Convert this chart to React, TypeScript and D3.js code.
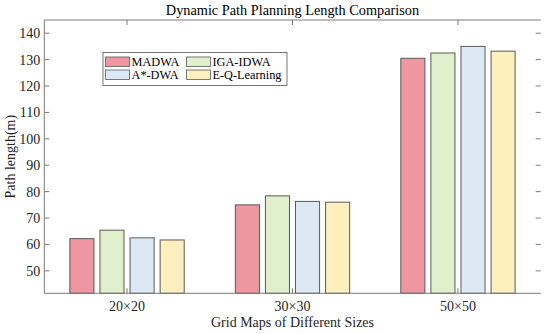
import React, { useEffect, useRef } from 'react';
import * as d3 from 'd3';

const groups = ['20×20', '30×30', '50×50'];
const seriesNames = ['MADWA', 'IGA-IDWA', 'A*-DWA', 'E-Q-Learning'];
const madwa = [62.2, 75.0, 130.5];
const igaIdwa = [65.4, 78.4, 132.5];
const aStarDwa = [62.5, 76.3, 135.0];
const eqLearning = [61.7, 76.0, 133.2];
const yTicks = [50, 60, 70, 80, 90, 100, 110, 120, 130, 140];

const colors = ['#EF97A0', '#E1F0CC', '#DCE9F4', '#FEEFBE'];

const App: React.FC = () => {
  const ref = useRef<HTMLDivElement | null>(null);

  useEffect(() => {
    if (!ref.current) return;
    ref.current.innerHTML = '';

    const width = 550;
    const height = 334;
    const left = 44.3;
    const right = 540.7;
    const top = 20;
    const bottom = 293.3;
    const font = "'Liberation Serif', 'Times New Roman', serif";
    const axisColor = '#7a7a7a';

    const series = [madwa, igaIdwa, aStarDwa, eqLearning];

    const x = d3.scaleLinear().domain([0.5, 3.5]).range([left, right]);
    const y = d3.scaleLinear().domain([41.5, 145]).range([bottom, top]);

    const svg = d3
      .select(ref.current)
      .append('svg')
      .attr('width', width)
      .attr('height', height)
      .style('position', 'absolute')
      .style('left', '0px')
      .style('top', '0px');

    const addText = (g: any, size: number, fill: string) =>
      g.append('text').attr('font-family', font).attr('font-size', size).attr('fill', fill);

    // bars (MATLAB grouped layout)
    const groupWidth = Math.min(0.8, 4 / (4 + 1.5));
    const step = groupWidth / 4;
    const barW = step * 0.8;
    series.forEach((vals, si) => {
      svg
        .append('g')
        .selectAll('rect')
        .data(vals)
        .enter()
        .append('rect')
        .attr('x', (_d, gi) => x(gi + 1 - groupWidth / 2 + step * si + (step - barW) / 2))
        .attr('width', x(barW) - x(0))
        .attr('y', (d) => y(d))
        .attr('height', (d) => bottom - y(d))
        .attr('fill', colors[si])
        .attr('stroke', '#5a5a5a')
        .attr('stroke-width', 1);
    });

    // axis lines
    svg.append('line').attr('x1', left).attr('x2', left).attr('y1', top).attr('y2', bottom).attr('stroke', axisColor);
    svg.append('line').attr('x1', left).attr('x2', right).attr('y1', bottom).attr('y2', bottom).attr('stroke', axisColor);
    svg.append('line').attr('x1', left).attr('x2', right).attr('y1', top).attr('y2', top).attr('stroke', axisColor);

    // y ticks
    const yt = svg.append('g');
    yTicks.forEach((t) => {
      yt.append('line').attr('x1', left).attr('x2', left + 5).attr('y1', y(t)).attr('y2', y(t)).attr('stroke', axisColor);
      yt.append('line').attr('x1', right - 5).attr('x2', right).attr('y1', y(t)).attr('y2', y(t)).attr('stroke', axisColor);
      addText(yt, 14, '#262626')
        .attr('x', left - 4)
        .attr('y', y(t))
        .attr('dy', '0.35em')
        .attr('text-anchor', 'end')
        .text(t);
    });

    // x ticks
    groups.forEach((g, i) => {
      const cx = x(i + 1);
      svg.append('line').attr('x1', cx).attr('x2', cx).attr('y1', bottom).attr('y2', bottom - 5).attr('stroke', axisColor);
      svg.append('line').attr('x1', cx).attr('x2', cx).attr('y1', top).attr('y2', top + 5).attr('stroke', axisColor);
      addText(svg, 14, '#262626')
        .attr('x', cx)
        .attr('y', bottom + 18)
        .attr('text-anchor', 'middle')
        .text(g);
    });

    // titles
    addText(svg, 14.3, '#000')
      .attr('x', (left + right) / 2)
      .attr('y', 15)
      .attr('text-anchor', 'middle')
      .text('Dynamic Path Planning Length Comparison');
    addText(svg, 14, '#262626')
      .attr('x', (left + right) / 2)
      .attr('y', 327)
      .attr('text-anchor', 'middle')
      .text('Grid Maps of Different Sizes');
    addText(svg, 14, '#262626')
      .attr('transform', `translate(15, ${(top + bottom) / 2}) rotate(-90)`)
      .attr('text-anchor', 'middle')
      .text('Path length(m)');

    // legend
    const lg = svg.append('g');
    lg.append('rect')
      .attr('x', 103)
      .attr('y', 52.5)
      .attr('width', 184)
      .attr('height', 33)
      .attr('fill', '#fff')
      .attr('stroke', '#555')
      .attr('stroke-width', 0.8);
    const colX = [105.5, 186.5];
    const rowY = [57, 70];
    seriesNames.forEach((name, i) => {
      const cx = colX[i % 2];
      const ry = rowY[Math.floor(i / 2)];
      lg.append('rect')
        .attr('x', cx)
        .attr('y', ry)
        .attr('width', 24)
        .attr('height', 9.5)
        .attr('fill', colors[i])
        .attr('stroke', '#5a5a5a')
        .attr('stroke-width', 0.8);
      addText(lg, 12.3, '#000')
        .attr('x', cx + 26)
        .attr('y', ry + 9)
        .text(name);
    });
  }, []);

  return <div ref={ref} />;
};

export default App;
